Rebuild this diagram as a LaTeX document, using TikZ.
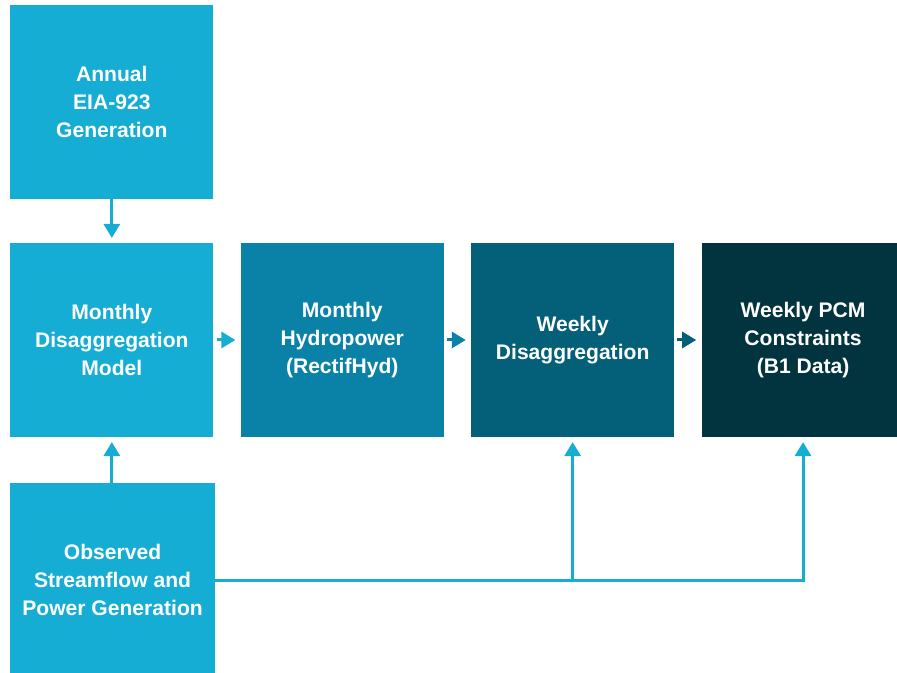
\documentclass[tikz,border=0pt]{standalone}
\usepackage{fontspec}
\setmainfont{Liberation Sans}
\usetikzlibrary{positioning, arrows.meta}

\definecolor{cyanA}{HTML}{15ADD4}
\definecolor{tealB}{HTML}{0A82A8}
\definecolor{tealC}{HTML}{045F78}
\definecolor{tealD}{HTML}{02343F}

\begin{document}
\begin{tikzpicture}[x=0.02cm, y=-0.02cm,
        stepbox/.style={rectangle, minimum width=4.06cm, minimum height=3.87cm, inner sep=0pt,
            text=white, align=center, font=\fontsize{12}{15.9}\selectfont\bfseries},
        flow/.style={line width=1.7pt, -{Triangle[width=0.32cm,length=0.28cm]}, shorten >=0.1cm}]

        % page size, as in the reference
        \useasboundingbox (0,0) rectangle (897,673);

        % the boxes
        \node[stepbox, fill=cyanA, anchor=north west] (annual) at (10,5) {Annual\\EIA-923\\Generation};
        \node[stepbox, fill=cyanA, below=0.875cm of annual] (monthly) {Monthly\\Disaggregation\\Model};
        \node[stepbox, fill=tealB, right=0.535cm of monthly] (hydro) {Monthly\\Hydropower\\(RectifHyd)};
        \node[stepbox, fill=tealC, right=0.535cm of hydro] (weekly) {Weekly\\Disaggregation};
        \node[stepbox, fill=tealD, right=0.535cm of weekly] (pcm) {Weekly PCM\\Constraints\\(B1 Data)};
        \node[stepbox, fill=cyanA, minimum width=4.09cm, below=0.92cm of monthly.south west, anchor=north west] (observed) {Observed\\Streamflow and\\Power Generation};

        % arrows between the boxes
        \draw[flow, cyanA] (annual) -- (monthly);
        \draw[flow, cyanA] (observed.north -| monthly) -- (monthly);
        \draw[flow, cyanA, shorten <=0.06cm] (monthly) -- (hydro);
        \draw[flow, tealB, shorten <=0.06cm] (hydro) -- (weekly);
        \draw[flow, tealC, shorten <=0.06cm] (weekly) -- (pcm);

        % observed data feeds the weekly steps
        \draw[flow, cyanA] (observed.east) -| (pcm.south);
        \draw[flow, cyanA] (observed.east -| weekly.south) -- (weekly.south);

\end{tikzpicture}
\end{document}
